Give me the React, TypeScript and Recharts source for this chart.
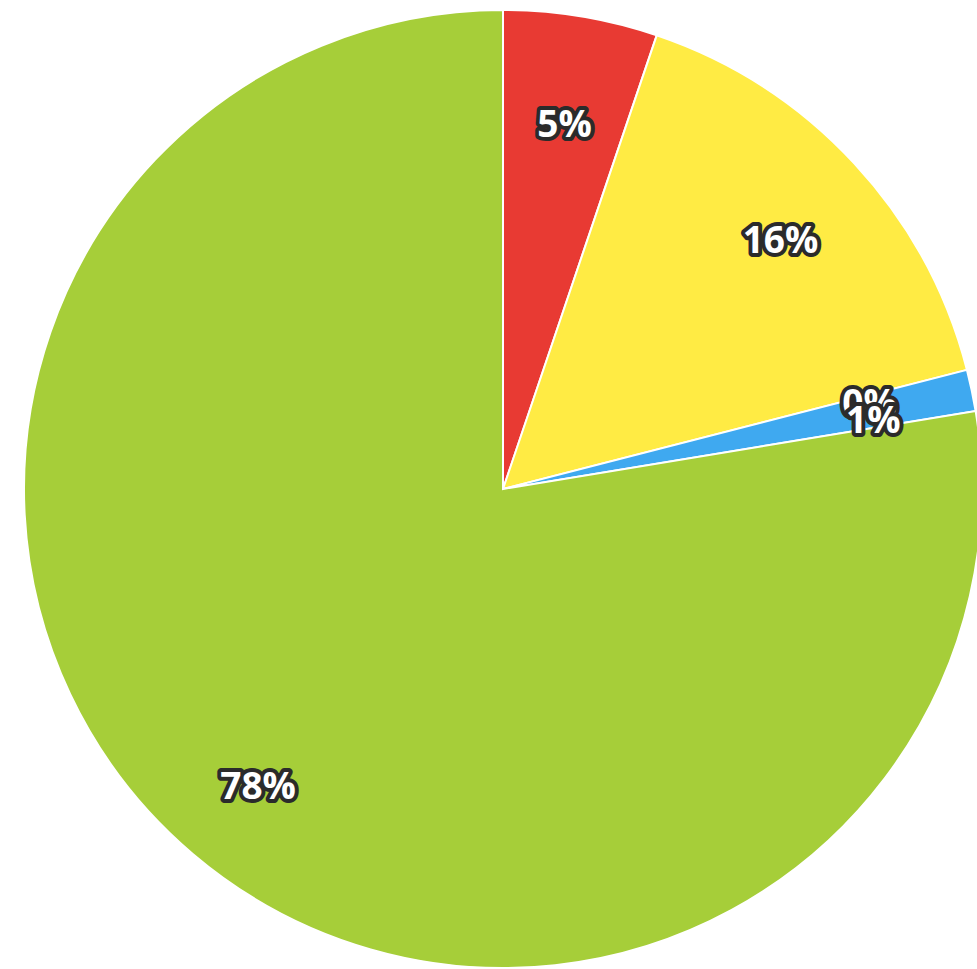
import { PieChart, Pie, Cell } from 'recharts'

const names = ['Red', 'Yellow', 'Zero', 'Blue', 'Green']
const values = [5.2, 15.8, 0, 1.4, 77.6]
const labels = ['5%', '16%', '0%', '1%', '78%']
const colors = ['#E83A33', '#FFEB44', '#3FA9F0', '#3FA9F0', '#A6CE39']

const data = names.map((name, i) => ({ name, value: values[i], label: labels[i] }))

const RADIAN = Math.PI / 180

const renderLabel = (props: any) => {
  const { cx, cy, midAngle, outerRadius, index } = props
  const r = outerRadius * 0.79
  const x = cx + r * Math.cos(-midAngle * RADIAN)
  const y = cy + r * Math.sin(-midAngle * RADIAN) + 7
  return (
    <text
      x={x}
      y={y}
      textAnchor="middle"
      dominantBaseline="central"
      fill="#fff"
      stroke="#2b2b2b"
      strokeWidth={8}
      strokeLinejoin="round"
      paintOrder="stroke"
      fontFamily="'Open Sans', sans-serif"
      fontWeight="bold"
      fontSize={37}
    >
      {data[index].label}
    </text>
  )
}

const App = () => {
  return (
    <div style={{ position: 'absolute', left: 0, top: 0, background: '#fff' }}>
      <PieChart width={977} height={969} margin={{ top: 0, right: 0, bottom: 0, left: 0 }}>
        <Pie
          data={data}
          dataKey="value"
          cx={503}
          cy={489}
          outerRadius={479}
          startAngle={90}
          endAngle={-270}
          stroke="#fff"
          strokeWidth={2}
          label={renderLabel}
          labelLine={false}
          isAnimationActive={false}
        >
          {data.map((d, i) => (
            <Cell key={d.name} fill={colors[i]} />
          ))}
        </Pie>
      </PieChart>
    </div>
  )
}

export default App
